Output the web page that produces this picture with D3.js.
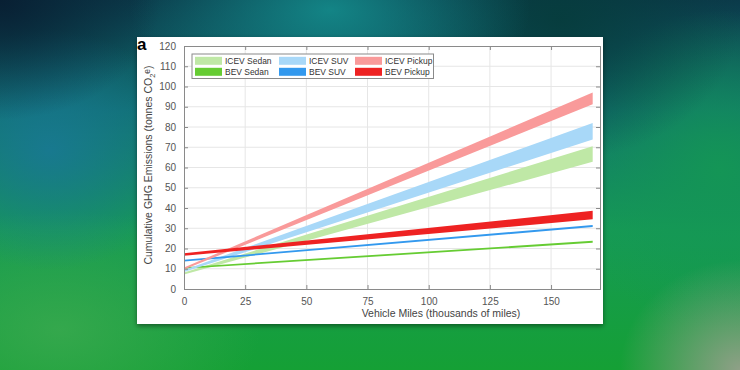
<!DOCTYPE html>
<html>
<head>
<meta charset="utf-8">
<script src="https://cdn.jsdelivr.net/npm/d3@7"></script>
<style>
  html, body { margin: 0; padding: 0; width: 740px; height: 370px; overflow: hidden; }
  #bg {
    position: absolute; left: 0; top: 0; width: 740px; height: 370px;
    background:
      radial-gradient(ellipse 160px 120px at 0px 0px, rgba(8,30,50,0.95), rgba(8,30,50,0) 100%),
      radial-gradient(ellipse 200px 110px at 330px 10px, rgba(20,140,140,0.9), rgba(20,140,140,0) 100%),
      radial-gradient(ellipse 180px 140px at 560px 20px, rgba(6,60,60,0.9), rgba(6,60,60,0) 100%),
      radial-gradient(ellipse 140px 120px at 50px 150px, rgba(25,120,150,0.85), rgba(25,120,150,0) 100%),
      radial-gradient(ellipse 120px 110px at 740px 370px, rgba(150,160,140,0.95), rgba(150,160,140,0) 100%),
      radial-gradient(ellipse 200px 120px at 60px 330px, rgba(60,170,80,0.8), rgba(60,170,80,0) 100%),
      radial-gradient(ellipse 160px 160px at 720px 170px, rgba(20,150,85,0.95), rgba(20,150,85,0) 100%),
      linear-gradient(180deg, #0b3a4a 0%, #107070 30%, #169a55 62%, #15a035 100%);
  }
  svg { position: absolute; left: 0; top: 0; }
</style>
</head>
<body>
<div id="bg"></div>
<svg id="chart" width="740" height="370"></svg>
<script>
// ---- data ----
const miles = [0, 167];                       // thousands of miles
const icevSedanLow  = [7.2, 62.8];
const icevSedanHigh = [8.2, 70.5];
const bevSedanLow   = [10.0, 22.8];
const bevSedanHigh  = [10.8, 23.8];
const icevSuvLow    = [8.4, 73.8];
const icevSuvHigh   = [9.4, 82.0];
const bevSuvLow     = [13.6, 30.6];
const bevSuvHigh    = [14.4, 31.6];
const icevPickupLow = [9.6, 91.2];
const icevPickupHigh= [10.6, 97.0];
const bevPickupLow  = [16.4, 34.4];
const bevPickupHigh = [17.6, 38.6];

const seriesNames = ["ICEV Sedan", "BEV Sedan", "ICEV SUV", "BEV SUV", "ICEV Pickup", "BEV Pickup"];
const seriesColors = ["#bfe8a6", "#66cc33", "#a8d8f8", "#3399ee", "#f99a9a", "#ee2222"];
const seriesLow  = [icevSedanLow, bevSedanLow, icevSuvLow, bevSuvLow, icevPickupLow, bevPickupLow];
const seriesHigh = [icevSedanHigh, bevSedanHigh, icevSuvHigh, bevSuvHigh, icevPickupHigh, bevPickupHigh];

const xTicks = [0, 25, 50, 75, 100, 125, 150];
const yTicks = [0, 10, 20, 30, 40, 50, 60, 70, 80, 90, 100, 110, 120];

const xLabel = "Vehicle Miles (thousands of miles)";
const panelLabel = "a";

(function () {
// ---- layout ----
const svg = d3.select("#chart");
const pL = 184, pR = 600, pT = 46, pB = 289;
const x = d3.scaleLinear().domain([0, 170]).range([pL, pR]);
const y = d3.scaleLinear().domain([0, 120]).range([pB, pT]);
const font = "'Liberation Sans', Arial, Helvetica, sans-serif";

// panel with shadow
const defs = svg.append("defs");
const f = defs.append("filter").attr("id", "sh").attr("x", "-5%").attr("y", "-5%").attr("width", "110%").attr("height", "115%");
f.append("feDropShadow").attr("dx", 0).attr("dy", 2).attr("stdDeviation", 2.5).attr("flood-color", "#000").attr("flood-opacity", 0.45);
svg.append("rect").attr("x", 137).attr("y", 37).attr("width", 466).attr("height", 287)
  .attr("fill", "#ffffff").attr("filter", "url(#sh)");

// grid
const g = svg.append("g");
g.selectAll("line.gx").data(xTicks.slice(1)).join("line")
  .attr("x1", d => x(d)).attr("x2", d => x(d)).attr("y1", pT).attr("y2", pB)
  .attr("stroke", "#e6e6e6").attr("stroke-width", 1);
g.selectAll("line.gy").data(yTicks.slice(1, -1)).join("line")
  .attr("x1", pL).attr("x2", pR).attr("y1", d => y(d)).attr("y2", d => y(d))
  .attr("stroke", "#e6e6e6").attr("stroke-width", 1);

// bands
const area = d3.area()
  .x((d, i) => x(miles[i]))
  .y0(d => y(d[0]))
  .y1(d => y(d[1]));
seriesNames.forEach((name, k) => {
  const pts = miles.map((m, i) => [seriesLow[k][i], seriesHigh[k][i]]);
  g.append("path").datum(pts).attr("d", area).attr("fill", seriesColors[k]);
});

// axes
const axB = d3.axisBottom(x).tickValues(xTicks).tickSize(-4).tickPadding(9).tickFormat(d3.format("d"));
const axT = d3.axisTop(x).tickValues(xTicks).tickSize(-4).tickFormat("");
const axL = d3.axisLeft(y).tickValues(yTicks).tickSize(-4).tickPadding(8).tickFormat(d3.format("d"));
const axR = d3.axisRight(y).tickValues(yTicks).tickSize(-4).tickFormat("");

function style(sel) {
  sel.selectAll("path.domain").attr("stroke", "#8a8a8a");
  sel.selectAll(".tick line").attr("stroke", "#8a8a8a");
  sel.selectAll("text").attr("fill", "#555").style("font-family", font).style("font-size", "10px");
}
svg.append("g").attr("transform", `translate(0,${pB})`).call(axB).call(style);
svg.append("g").attr("transform", `translate(0,${pT})`).call(axT).call(style);
svg.append("g").attr("transform", `translate(${pL},0)`).call(axL).call(style);
svg.append("g").attr("transform", `translate(${pR},0)`).call(axR).call(style);

// legend
const lg = svg.append("g");
lg.append("rect").attr("x", 192).attr("y", 54).attr("width", 241.5).attr("height", 24.5)
  .attr("fill", "#fff").attr("stroke", "#8a8a8a").attr("stroke-width", 1);
const colX = [195, 279, 355];
const rowY = [56.8, 67.8];
seriesNames.forEach((name, k) => {
  const c = Math.floor(k / 2), r = k % 2;
  lg.append("rect").attr("x", colX[c]).attr("y", rowY[r]).attr("width", 27).attr("height", 8)
    .attr("fill", seriesColors[k]);
  const t = lg.append("text").attr("x", colX[c] + 30).attr("y", rowY[r] + 7.6)
    .attr("fill", "#333").style("font-family", font).style("font-size", "9.5px").text(name);
  const w = t.node().getComputedTextLength();
  t.attr("textLength", w * 0.89).attr("lengthAdjust", "spacingAndGlyphs");
});

// axis labels
svg.append("text").attr("x", 441).attr("y", 317).attr("text-anchor", "middle")
  .attr("fill", "#444").style("font-family", font).style("font-size", "10.5px").text(xLabel);

const yl = svg.append("text").attr("transform", "translate(152,165) rotate(-90)")
  .attr("text-anchor", "middle").attr("fill", "#444")
  .style("font-family", font).style("font-size", "10.5px");
yl.append("tspan").text("Cumulative GHG Emissions (tonnes CO");
yl.append("tspan").attr("dy", 3).style("font-size", "7.5px").text("2");
yl.append("tspan").attr("dy", -5).style("font-size", "8.5px").text("e");
yl.append("tspan").attr("dy", 2).text(")");

svg.append("text").attr("x", 137).attr("y", 49.5).attr("fill", "#000")
  .style("font-family", font).style("font-size", "17px").style("font-weight", "bold").text(panelLabel);
})();
</script>
</body>
</html>
